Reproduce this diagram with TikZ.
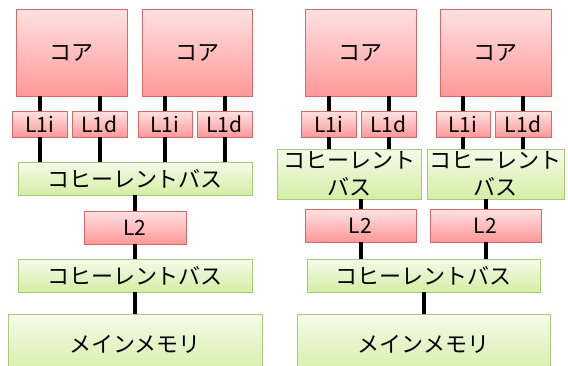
\documentclass[tikz,border=0pt]{standalone}
\usepackage{fontspec}
\newfontfamily\jpfont{Noto Sans CJK JP}
\usetikzlibrary{shadows}
\definecolor{pinktop}{HTML}{FFE2E2}
\definecolor{pinkbot}{HTML}{FF9898}
\definecolor{pinkline}{HTML}{D46A6A}
\definecolor{greentop}{HTML}{F5FBEA}
\definecolor{greenbot}{HTML}{D4EEA4}
\definecolor{greenline}{HTML}{A8C97C}
\tikzset{
  basebox/.style={rectangle, line width=0.8pt, inner sep=0pt, align=center,
    font=\jpfont\fontsize{22}{27}\selectfont,
    drop shadow={shadow xshift=1.2pt, shadow yshift=-1.2pt, opacity=0.22}},
  pinkbox/.style={basebox, draw=pinkline, top color=pinktop, bottom color=pinkbot},
  greenbox/.style={basebox, draw=greenline, top color=greentop, bottom color=greenbot},
  latin/.style={font=\jpfont\fontsize{21}{27}\selectfont},
  wire/.style={line width=4pt, black},
}
\newcommand\mybox[7]{\node[#1, minimum width={(#5-#3)*1pt}, minimum height={(#6-#4)*1pt}] (#2) at ({(#3+#5)/2},{(#4+#6)/2}) {#7};}
\begin{document}
\begin{tikzpicture}[x=1pt,y=-1pt]
\useasboundingbox (0,0) rectangle (568,365);
\clip (0,0) rectangle (568,365);
% left
\mybox{pinkbox}{c1}{16}{9}{127}{96}{コア}
\mybox{pinkbox}{c2}{142}{9}{252}{96}{コア}
\mybox{pinkbox,latin}{a1i}{12}{111}{67}{137}{L1i}
\mybox{pinkbox,latin}{a1d}{72}{111}{127}{137}{L1d}
\mybox{pinkbox,latin}{a2i}{138}{111}{192}{137}{L1i}
\mybox{pinkbox,latin}{a2d}{197}{111}{252}{137}{L1d}
\mybox{greenbox}{lbus1}{18}{162}{252}{195}{コヒーレントバス}
\mybox{pinkbox,latin}{ll2}{84}{211}{186}{244}{L2}
\mybox{greenbox}{lbus2}{18}{259}{252}{292}{コヒーレントバス}
\mybox{greenbox}{lmem}{8}{314}{262}{375}{メインメモリ}
% right
\mybox{pinkbox}{c3}{305}{9}{416}{96}{コア}
\mybox{pinkbox}{c4}{440}{9}{551}{96}{コア}
\mybox{pinkbox,latin}{b1i}{301}{111}{356}{137}{L1i}
\mybox{pinkbox,latin}{b1d}{361}{111}{416}{137}{L1d}
\mybox{pinkbox,latin}{b2i}{436}{111}{490}{137}{L1i}
\mybox{pinkbox,latin}{b2d}{495}{111}{551}{137}{L1d}
\mybox{greenbox}{rbus1}{277}{149}{421}{199}{コヒーレント\\バス}
\mybox{greenbox}{rbus2}{427}{149}{564}{199}{コヒーレント\\バス}
\mybox{pinkbox,latin}{rl2a}{305}{209}{416}{242}{L2}
\mybox{pinkbox,latin}{rl2b}{430}{209}{541}{242}{L2}
\mybox{greenbox}{rbus3}{307}{259}{540}{292}{コヒーレントバス}
\mybox{greenbox}{rmem}{297}{314}{550}{375}{メインメモリ}
% wires left
\foreach \n/\c in {a1i/c1,a1d/c1,a2i/c2,a2d/c2}{
  \draw[wire] (\n.north) -- (\n.north |- \c.south);
  \draw[wire] (\n.south) -- (\n.south |- lbus1.north);
}
\draw[wire] (ll2.north) -- (ll2.north |- lbus1.south);
\draw[wire] (ll2.south) -- (ll2.south |- lbus2.north);
\draw[wire] (lmem.north) -- (lmem.north |- lbus2.south);
% wires right
\foreach \n/\c/\b in {b1i/c3/rbus1,b1d/c3/rbus1,b2i/c4/rbus2,b2d/c4/rbus2}{
  \draw[wire] (\n.north) -- (\n.north |- \c.south);
  \draw[wire] (\n.south) -- (\n.south |- \b.north);
}
\draw[wire] (rl2a.north) -- (rl2a.north |- rbus1.south);
\draw[wire] (rl2b.north) -- (rl2b.north |- rbus2.south);
\draw[wire] (rl2a.south) -- (rl2a.south |- rbus3.north);
\draw[wire] (rl2b.south) -- (rl2b.south |- rbus3.north);
\draw[wire] (rmem.north) -- (rmem.north |- rbus3.south);
\end{tikzpicture}
\end{document}
